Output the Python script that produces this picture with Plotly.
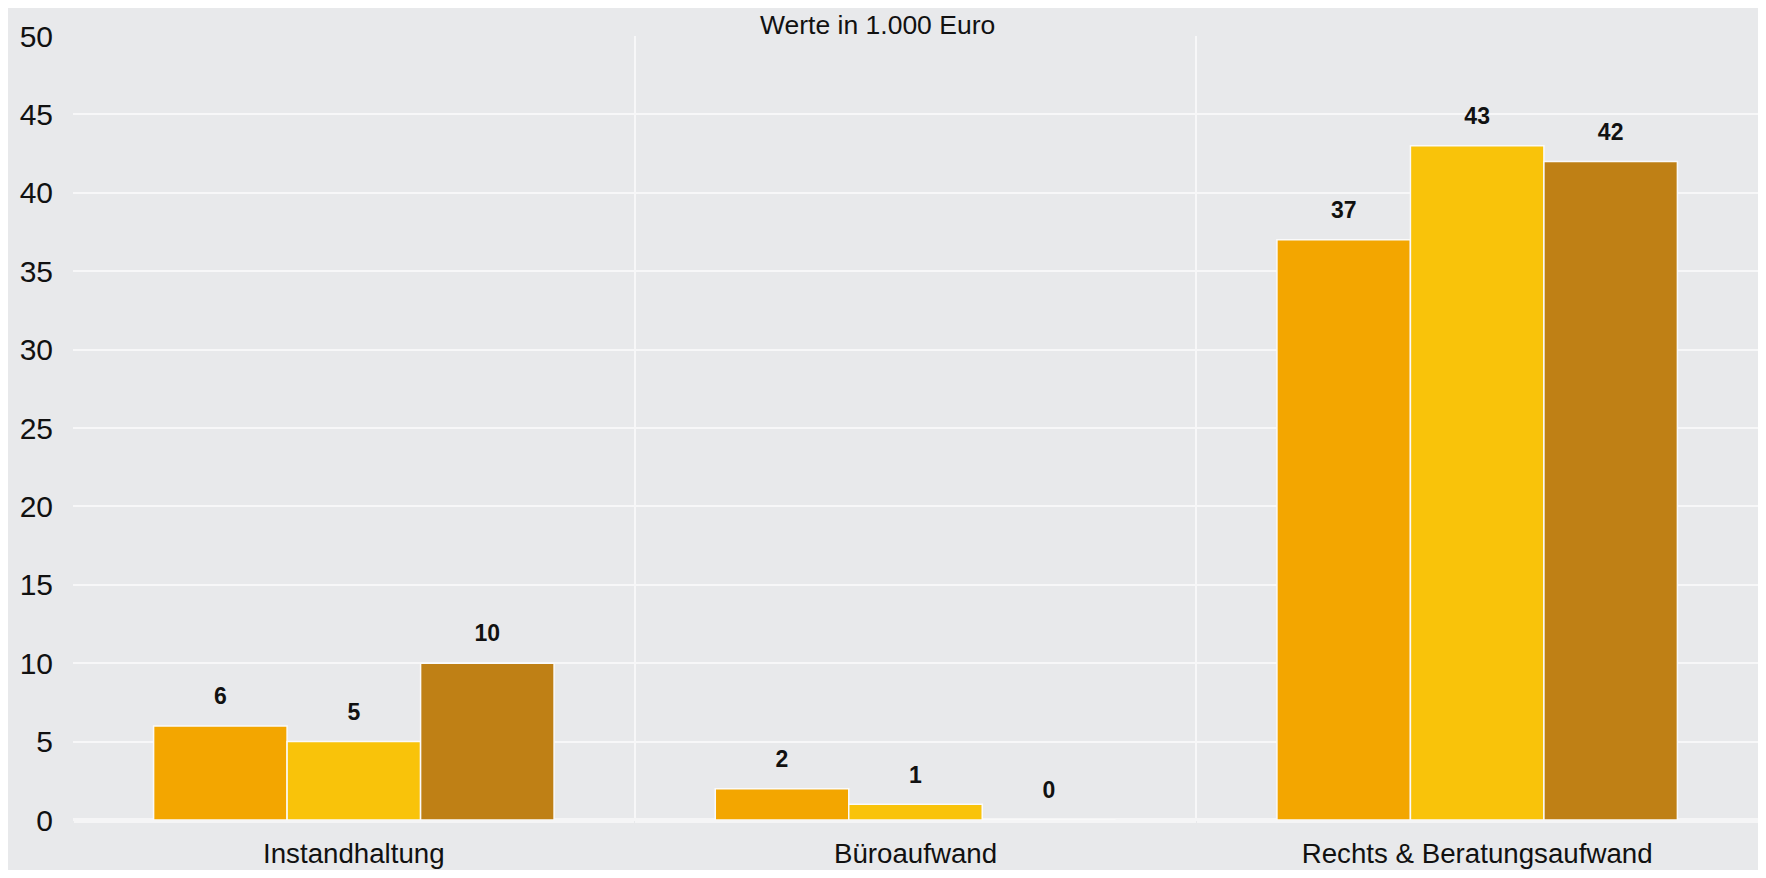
import plotly.graph_objects as go

categories = ["Instandhaltung", "Büroaufwand", "Rechts & Beratungsaufwand"]
series_names = ["Reihe 1", "Reihe 2", "Reihe 3"]
series_a = [6, 2, 37]
series_b = [5, 1, 43]
series_c = [10, 0, 42]
colors = ["#F3A600", "#F9C30A", "#BF8015"]
y_ticks = [0, 5, 10, 15, 20, 25, 30, 35, 40, 45, 50]

FONT = "Liberation Sans, Arial, sans-serif"
BG = "#E8E9EB"
GRID = "#F7F7F8"
GAP = 0.287

W, H = 1750, 862
ML, MR, MT, MB = 65, 0, 28, 50

fig = go.Figure()
for name, vals, col in zip(series_names, [series_a, series_b, series_c], colors):
    fig.add_trace(go.Bar(
        name=name,
        x=categories,
        y=vals,
        marker=dict(color=col, line=dict(color="#FAFAFA", width=1.5)),
        hoverinfo="x+y",
    ))

for name, vals in zip(series_names, [series_a, series_b, series_c]):
    fig.add_trace(go.Scatter(
        name=name,
        x=categories,
        y=vals,
        mode="markers+text",
        text=[f"<b>{v}</b>" for v in vals],
        textposition="top center",
        textfont=dict(family=FONT, size=23, color="#111111"),
        marker=dict(size=24, color="rgba(0,0,0,0)"),
        cliponaxis=False,
        hoverinfo="skip",
    ))

fig.update_layout(
    width=W,
    height=H,
    margin=dict(l=ML, r=MR, t=MT, b=MB, pad=0),
    paper_bgcolor=BG,
    plot_bgcolor=BG,
    barmode="group",
    bargap=GAP,
    bargroupgap=0,
    scattermode="group",
    scattergap=GAP,
    showlegend=False,
    font=dict(family=FONT, color="#111111"),
)

plot_w = W - ML - MR
plot_h = H - MT - MB
fig.add_annotation(
    text="Werte in 1.000 Euro",
    xref="paper", yref="paper",
    x=(869 - ML) / plot_w, y=1 + MT / plot_h,
    xanchor="center", yanchor="top",
    showarrow=False,
    font=dict(family=FONT, size=26.5, color="#111111"),
)

fig.update_xaxes(
    type="category",
    tickson="boundaries",
    showgrid=True,
    gridcolor=GRID,
    gridwidth=2,
    ticks="outside",
    ticklen=37,
    tickcolor=BG,
    ticklabelstandoff=14,
    tickfont=dict(family=FONT, size=27.7, color="#111111"),
    showline=False,
    zeroline=False,
    automargin=False,
)

fig.update_yaxes(
    range=[0, 50],
    tickvals=y_ticks,
    showgrid=True,
    gridcolor=GRID,
    gridwidth=2,
    zeroline=True,
    zerolinecolor="#F5F5F6",
    zerolinewidth=5,
    ticks="outside",
    ticklen=13,
    tickcolor=BG,
    tickfont=dict(family=FONT, size=30, color="#111111"),
    showline=False,
    automargin=False,
)

fig.write_html("out.html")
